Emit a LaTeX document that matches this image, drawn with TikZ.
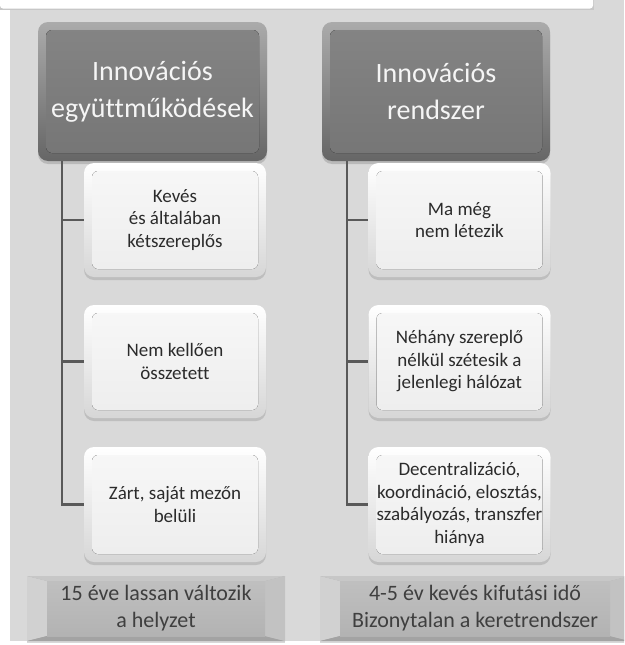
\documentclass[tikz,border=0pt]{standalone}
\usepackage{fontspec}
\setmainfont[Ligatures={NoCommon}]{Carlito}
\usetikzlibrary{shadows}
\definecolor{panel}{HTML}{D9D9D9}
\definecolor{conncol}{HTML}{595959}
\definecolor{txtdark}{HTML}{2B2B2B}
\definecolor{txtbot}{HTML}{3F3F3F}
\tikzset{
  hdrbox/.style={rounded corners=10pt, minimum width=#1, minimum height=139pt, inner sep=0pt,
    top color=black!33, bottom color=black!60, text=black!4, align=center,
    font=\fontsize{28}{37}\selectfont,
    drop shadow={shadow xshift=0pt, shadow yshift=-3pt, opacity=0.35},
    path picture={\fill[rounded corners=6pt, top color=black!48, bottom color=black!54]
      ([shift={(8pt,-8pt)}]path picture bounding box.north west) rectangle
      ([shift={(-8pt,8pt)}]path picture bounding box.south east);}},
  subbox/.style={rounded corners=10pt, minimum width=182pt, minimum height=#1, inner sep=0pt,
    top color=white, bottom color=black!16, text=txtdark, align=center,
    font=\fontsize{19}{22.5}\selectfont,
    drop shadow={shadow xshift=0pt, shadow yshift=-3pt, opacity=0.3},
    path picture={\fill[rounded corners=6pt, top color=black!3, bottom color=black!7]
      ([shift={(8pt,-8pt)}]path picture bounding box.north west) rectangle
      ([shift={(-8pt,8pt)}]path picture bounding box.south east);}},
  botbox/.style={minimum width=#1, minimum height=65pt, inner sep=0pt,
    fill=black!30, text=txtbot, align=center,
    font=\fontsize{22}{27}\selectfont,
    drop shadow={shadow xshift=0pt, shadow yshift=-2pt, opacity=0.3},
    path picture={
      \fill[black!18] (path picture bounding box.north west) --
        ([shift={(20pt,-5pt)}]path picture bounding box.north west) --
        ([shift={(20pt,5pt)}]path picture bounding box.south west) --
        (path picture bounding box.south west) -- cycle;
      \fill[black!22] (path picture bounding box.north west) --
        (path picture bounding box.north east) --
        ([shift={(-20pt,-5pt)}]path picture bounding box.north east) --
        ([shift={(20pt,-5pt)}]path picture bounding box.north west) -- cycle;
      \fill[black!36] (path picture bounding box.south west) --
        (path picture bounding box.south east) --
        ([shift={(-20pt,5pt)}]path picture bounding box.south east) --
        ([shift={(20pt,5pt)}]path picture bounding box.south west) -- cycle;
      \fill[black!24] (path picture bounding box.north east) --
        ([shift={(-20pt,-5pt)}]path picture bounding box.north east) --
        ([shift={(-20pt,5pt)}]path picture bounding box.south east) --
        (path picture bounding box.south east) -- cycle;
      \fill[top color=black!25, bottom color=black!30]
        ([shift={(20pt,-5pt)}]path picture bounding box.north west) rectangle
        ([shift={(-20pt,5pt)}]path picture bounding box.south east);}},
  conn/.style={draw=conncol, line width=2.6pt}
}
\begin{document}
\begin{tikzpicture}[x=1pt, y=-1pt]
\useasboundingbox (0,0) rectangle (624,645);
\clip (0,0) rectangle (624,645);
% background
\fill[white] (0,0) rectangle (624,645);
\fill[panel] (10,0) rectangle (624,641);
\fill[black!22] (0,0) rectangle (594,10);
\fill[white, rounded corners=3pt] (0,-5) rectangle (593,8.5);
% headers
\node[hdrbox=229pt] (h1) at (152.5,91.5) {Innovációs\\együttműködések};
\node[hdrbox=228pt] (h2) at (436,91.5) {Innovációs\\rendszer};
% sub boxes left
\node[subbox=114pt] (a1) at (175,220) {Kevés\\és általában\\kétszereplős};
\node[subbox=113pt] (a2) at (175,361.5) {Nem kellően\\összetett};
\node[subbox=115pt] (a3) at (175,504.5) {Zárt, saját mezőn\\belüli};
% sub boxes right
\node[subbox=114pt] (b1) at (459.5,220) {Ma még\\nem létezik};
\node[subbox=113pt] (b2) at (459.5,361.5) {Néhány szereplő\\nélkül szétesik a\\jelenlegi hálózat};
\node[subbox=115pt] (b3) at (459.5,504.5) {Decentralizáció,\\koordináció, elosztás,\\szabályozás, transzfer\\hiánya};
% connectors
\coordinate (ta) at (62,161);
\coordinate (tb) at (347,161);
\draw[conn] (ta) |- (a3.west);
\draw[conn] (ta |- a1.west) -- (a1.west);
\draw[conn] (ta |- a2.west) -- (a2.west);
\draw[conn] (tb) |- (b3.west);
\draw[conn] (tb |- b1.west) -- (b1.west);
\draw[conn] (tb |- b2.west) -- (b2.west);
% bottom boxes
\node[botbox=258pt] (s1) at (156,608.5) {15 éve lassan változik\\a helyzet};
\node[botbox=310pt] (s2) at (475,608.5) {4-5 év kevés kifutási idő\\Bizonytalan a keretrendszer};
\end{tikzpicture}
\end{document}
